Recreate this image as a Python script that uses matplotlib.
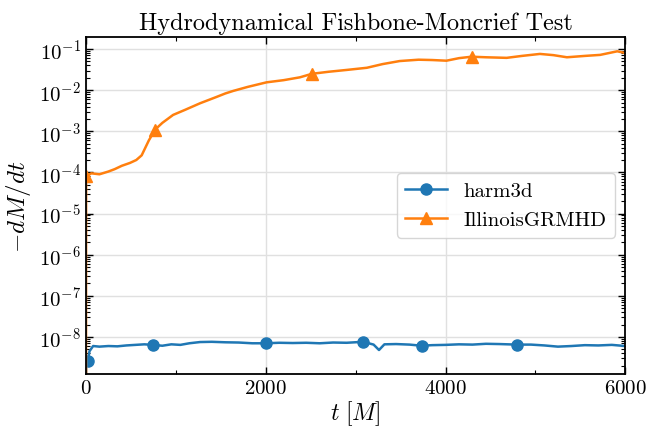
import numpy as np
import matplotlib
matplotlib.use("Agg")
import matplotlib.pyplot as plt

# style: computer modern look, inward ticks
plt.rcParams['font.family'] = 'serif'
plt.rcParams['font.serif'] = ['cmr10']
plt.rcParams['mathtext.fontset'] = 'cm'
plt.rcParams['axes.formatter.use_mathtext'] = True
plt.rcParams['axes.unicode_minus'] = True

# harm3d accretion rate
t_harm = [20, 40, 80, 150, 250, 350, 450, 550, 650, 750, 850, 950, 1050, 1150,
          1270, 1400, 1550, 1700, 1850, 2000, 2150, 2300, 2450, 2600, 2750, 2900,
          3085, 3200, 3260, 3320, 3450, 3600, 3735, 3850, 4000, 4150, 4300, 4450,
          4600, 4790, 4950, 5100, 5250, 5400, 5550, 5700, 5850, 6000]
mdot_harm = [2.6e-9, 4.5e-9, 6.0e-9, 5.8e-9, 6.0e-9, 5.9e-9, 6.2e-9, 6.4e-9,
             6.6e-9, 6.4e-9, 6.1e-9, 6.6e-9, 6.4e-9, 7.0e-9, 7.5e-9, 7.6e-9,
             7.4e-9, 7.3e-9, 7.0e-9, 7.0e-9, 7.2e-9, 7.1e-9, 7.2e-9, 7.0e-9,
             7.3e-9, 7.2e-9, 7.6e-9, 6.5e-9, 4.8e-9, 6.6e-9, 6.7e-9, 6.5e-9,
             6.1e-9, 6.3e-9, 6.4e-9, 6.6e-9, 6.5e-9, 6.8e-9, 6.7e-9, 6.5e-9,
             6.5e-9, 6.2e-9, 5.8e-9, 6.0e-9, 6.3e-9, 6.2e-9, 6.4e-9, 6.0e-9]
marks_harm = [20, 750, 2000, 3085, 3735, 4790]

# IllinoisGRMHD accretion rate
t_igm = [0, 2, 60, 150, 250, 320, 400, 490, 560, 620, 700, 770, 850, 970, 1100,
         1270, 1450, 1550, 1640, 1800, 2010, 2200, 2380, 2515, 2700, 2900, 3125,
         3300, 3490, 3700, 3850, 4010, 4150, 4290, 4450, 4680, 4850, 5050, 5200,
         5350, 5550, 5720, 5910, 6000]
mdot_igm = [1e-12, 8e-5, 9.5e-5, 9e-5, 1.05e-4, 1.2e-4, 1.45e-4, 1.7e-4, 2.0e-4,
            2.6e-4, 6e-4, 1.1e-3, 1.6e-3, 2.5e-3, 3.3e-3, 4.8e-3, 6.8e-3, 8.3e-3,
            9.6e-3, 1.2e-2, 1.55e-2, 1.75e-2, 2.05e-2, 2.5e-2, 2.8e-2, 3.1e-2,
            3.5e-2, 4.3e-2, 5.1e-2, 5.5e-2, 5.4e-2, 5.2e-2, 6.0e-2, 6.5e-2,
            6.3e-2, 6.1e-2, 6.8e-2, 7.6e-2, 7.1e-2, 6.3e-2, 6.8e-2, 7.2e-2,
            8.8e-2, 8.0e-2]
marks_igm = [2, 770, 2515, 4290]

fig = plt.figure(figsize=(6.46, 4.27), dpi=100)
ax = fig.add_axes([0.133, 0.122, 0.835, 0.789])

ax.plot(t_harm, mdot_harm, color='tab:blue', lw=1.8, marker='o', ms=8,
        markevery=[t_harm.index(t) for t in marks_harm], label='harm3d')
ax.plot(t_igm, mdot_igm, color='tab:orange', lw=1.8, marker='^', ms=8,
        markevery=[t_igm.index(t) for t in marks_igm], label='IllinoisGRMHD')

ax.set_yscale('log')
ax.set_xlim(0, 6000)
ax.set_ylim(1.26e-9, 0.196)
ax.set_xticks([0, 2000, 4000, 6000])
ax.set_xticks([1000, 3000, 5000], minor=True)
ax.set_yticks([1e-8, 1e-7, 1e-6, 1e-5, 1e-4, 1e-3, 1e-2, 1e-1])
ax.yaxis.set_minor_locator(matplotlib.ticker.LogLocator(base=10, subs=np.arange(2, 10), numticks=20))
ax.yaxis.set_minor_formatter(matplotlib.ticker.NullFormatter())
ax.tick_params(which='both', direction='in', top=True, right=True, labelsize=15)
ax.tick_params(which='major', length=5, width=1)
ax.tick_params(which='minor', length=3, width=0.8)
for s in ax.spines.values():
    s.set_linewidth(1.3)
ax.grid(True, which='major', color='0.88', lw=1)

ax.set_title('Hydrodynamical Fishbone-Moncrief Test', fontsize=17.5)
ax.set_xlabel(r'$t\ [M]$', fontsize=17, labelpad=1)
ax.set_ylabel(r'$-dM/dt$', fontsize=18)
ax.legend(loc='center right', fontsize=15)

fig.savefig('out.png', dpi=100)
